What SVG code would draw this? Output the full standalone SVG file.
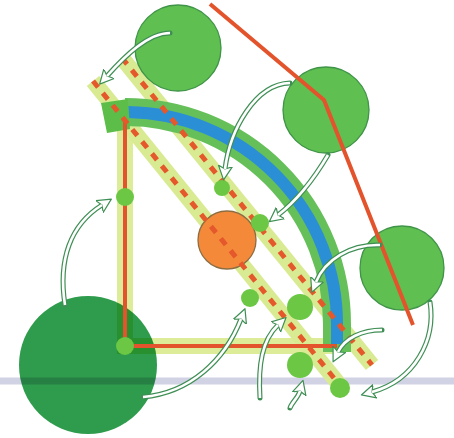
<svg xmlns="http://www.w3.org/2000/svg" width="454" height="438" viewBox="0 0 454 438">
  <defs>
    <style>
      .bigc { fill: #5fbf50; stroke: #3f9448; stroke-width: 1.3; }
      .dot { fill: #6cc744; }
      .band { fill: none; stroke: #d9eb92; stroke-width: 16; stroke-linecap: butt; }
      .dash { fill: none; stroke: #e5582c; stroke-width: 5; stroke-dasharray: 8 7.6; }
      .red { fill: none; stroke: #e4542c; stroke-width: 4; }
      .aout { fill: none; stroke: #3f8f55; stroke-width: 5; stroke-linecap: round; }
      .ain { fill: none; stroke: #ffffff; stroke-width: 2.6; stroke-linecap: butt; }
    </style>
    <marker id="ah" viewBox="0 -8 16 16" refX="3" refY="0" markerWidth="16" markerHeight="16" markerUnits="userSpaceOnUse" orient="auto">
      <path d="M0,-7 L14,0 L0,7 L3,0 Z" fill="#ffffff" stroke="#3f8f55" stroke-width="1.2" stroke-linejoin="round"/>
    </marker>
  </defs>
  <rect width="454" height="438" fill="#ffffff"/>

  <g id="dark-circle">
    <circle cx="88" cy="365" r="69" fill="#2e9c4c"/>
  </g>

  <g id="ground-line">
    <line x1="0" y1="381" x2="454" y2="381" stroke="#d2d2e5" stroke-width="7" style="mix-blend-mode:multiply"/>
  </g>

  <g id="l-band">
    <path d="M125,108 L125,346 L337,346" fill="none" stroke="#dcec98" stroke-width="16" stroke-linejoin="miter" style="mix-blend-mode:multiply"/>
  </g>

  <g id="diagonal-bands">
    <line class="band" x1="122" y1="58" x2="372" y2="365"/>
    <line class="band" x1="93" y1="81" x2="342" y2="388"/>
  </g>

  <g id="arc">
    <path d="M125,112 A212,212 0 0 1 337,324 L337,352" fill="none" stroke="#66c05a" stroke-width="28"/>
    <path d="M128,112 A212,212 0 0 1 337,324 L337,344" fill="none" stroke="#2b8fd6" stroke-width="12"/>
    <path d="M101,103 L128,99 L130,129 L107,133 Z" fill="#5cbe48"/>
  </g>

  <g id="l-line">
    <path class="red" d="M125,120 L125,346 L337,346"/>
  </g>

  <g id="orange-node">
    <circle cx="227" cy="240" r="29" fill="#f4893a" stroke="#8c6d42" stroke-width="1.3"/>
  </g>

  <g id="dashes">
    <line class="dash" x1="122" y1="58" x2="372" y2="365"/>
    <line class="dash" x1="93" y1="81" x2="342" y2="388"/>
  </g>

  <g id="dots">
    <circle class="dot" cx="125" cy="197" r="9"/>
    <circle class="dot" cx="125" cy="346" r="9"/>
    <circle class="dot" cx="222" cy="188" r="8"/>
    <circle class="dot" cx="260" cy="223" r="9"/>
    <circle class="dot" cx="250" cy="298" r="9"/>
    <circle class="dot" cx="300" cy="307" r="13"/>
    <circle class="dot" cx="300" cy="365" r="13"/>
    <circle class="dot" cx="340" cy="388" r="10"/>
  </g>

  <g id="circle-top"><circle class="bigc" cx="178" cy="48" r="43"/></g>
  <g id="circle-upper-right"><circle class="bigc" cx="326" cy="110" r="43"/></g>
  <g id="circle-right"><circle class="bigc" cx="402" cy="268" r="42"/></g>

  <g id="boundary">
    <polyline class="red" points="210,4 324,100 413,325" stroke-linejoin="round"/>
  </g>

  <g id="connectors">
    <path class="aout" marker-end="url(#ah)" d="M170,33 C148,33 125,56 107,76"/>
    <path class="ain" d="M170,33 C148,33 125,56 107,76"/>
    <path class="aout" marker-end="url(#ah)" d="M290,83 C255,84 230,130 225,169"/>
    <path class="ain" d="M290,83 C255,84 230,130 225,169"/>
    <path class="aout" marker-end="url(#ah)" d="M328,155 C312,182 295,202 278,215"/>
    <path class="ain" d="M328,155 C312,182 295,202 278,215"/>
    <path class="aout" marker-end="url(#ah)" d="M380,245 C350,244 325,260 316,282"/>
    <path class="ain" d="M380,245 C350,244 325,260 316,282"/>
    <path class="aout" marker-end="url(#ah)" d="M382,330 C362,330 345,338 338,352"/>
    <path class="ain" d="M382,330 C362,330 345,338 338,352"/>
    <path class="aout" marker-end="url(#ah)" d="M430,302 C436,340 415,380 372,392"/>
    <path class="ain" d="M430,302 C436,340 415,380 372,392"/>
    <path class="aout" marker-end="url(#ah)" d="M143,397 C190,393 225,360 241,319"/>
    <path class="ain" d="M143,397 C190,393 225,360 241,319"/>
    <path class="aout" marker-end="url(#ah)" d="M65,305 C58,260 70,225 102,205"/>
    <path class="ain" d="M65,305 C58,260 70,225 102,205"/>
    <path class="aout" marker-end="url(#ah)" d="M260,398 C258,365 262,340 278,325"/>
    <path class="ain" d="M260,398 C258,365 262,340 278,325"/>
    <path class="aout" marker-end="url(#ah)" d="M290,408 C292,402 298,398 300,391"/>
    <path class="ain" d="M290,408 C292,402 298,398 300,391"/>
  </g>
</svg>
